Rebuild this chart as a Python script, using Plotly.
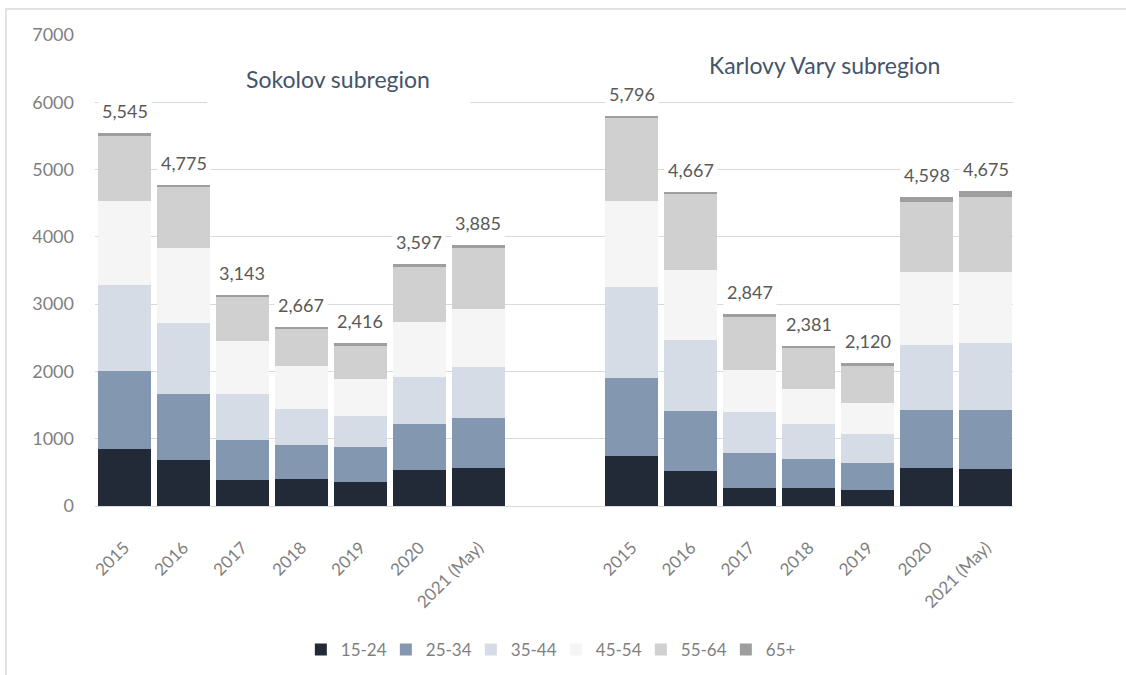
import plotly.graph_objects as go

years = ["2015", "2016", "2017", "2018", "2019", "2020", "2021 (May)"]
age_groups = ["15-24", "25-34", "35-44", "45-54", "55-64", "65+"]

sokolov_15_24 = [852, 688, 386, 401, 362, 535, 570]
sokolov_25_34 = [1159, 976, 600, 505, 510, 683, 738]
sokolov_35_44 = [1273, 1060, 683, 540, 465, 699, 757]
sokolov_45_54 = [1253, 1115, 783, 629, 555, 817, 862]
sokolov_55_64 = [966, 896, 663, 560, 495, 812, 902]
sokolov_65_plus = [42, 40, 28, 32, 29, 51, 56]

karlovy_15_24 = [743, 520, 272, 267, 243, 565, 550]
karlovy_25_34 = [1159, 897, 520, 431, 401, 866, 876]
karlovy_35_44 = [1352, 1055, 605, 520, 421, 966, 1001]
karlovy_45_54 = [1278, 1035, 624, 525, 461, 1080, 1050]
karlovy_55_64 = [1238, 1124, 802, 600, 559, 1045, 1119]
karlovy_65_plus = [26, 36, 24, 38, 35, 76, 79]

sokolov = [sokolov_15_24, sokolov_25_34, sokolov_35_44, sokolov_45_54, sokolov_55_64, sokolov_65_plus]
karlovy = [karlovy_15_24, karlovy_25_34, karlovy_35_44, karlovy_45_54, karlovy_55_64, karlovy_65_plus]

colors = ["#222A38", "#8497B0", "#D6DCE5", "#F5F5F5", "#D0D0D0", "#9E9E9E"]

FONT = "Lato"
GRAY = "#595959"
LIGHT_GRAY = "#7F7F7F"
TITLE_COLOR = "#44546A"
KV_OFFSET = 8.6

pos_sok = list(range(len(years)))
pos_kv = [i + KV_OFFSET for i in range(len(years))]
positions = pos_sok + pos_kv

fig = go.Figure()
for g, name in enumerate(age_groups):
    fig.add_trace(go.Bar(
        x=positions,
        y=sokolov[g] + karlovy[g],
        name=name,
        marker=dict(color=colors[g], line=dict(width=0)),
        width=0.9,
    ))

tot_sok = [sum(s[i] for s in sokolov) for i in range(len(years))]
tot_kv = [sum(s[i] for s in karlovy) for i in range(len(years))]

annotations = []
for x, t in zip(positions, tot_sok + tot_kv):
    annotations.append(dict(
        x=x, y=t, xref="x", yref="y", text=f"{t:,}", showarrow=False,
        yanchor="bottom", yshift=7, bgcolor="white", borderpad=3,
        font=dict(family=FONT, size=18, color=GRAY),
    ))

annotations.append(dict(x=3.62, y=6345, xref="x", yref="y", text="Sokolov subregion",
                        showarrow=False, font=dict(family=FONT, size=23, color=TITLE_COLOR)))
annotations.append(dict(x=11.86, y=6553, xref="x", yref="y", text="Karlovy Vary subregion",
                        showarrow=False, font=dict(family=FONT, size=23, color=TITLE_COLOR)))

shapes = [
    dict(type="rect", xref="x", yref="y", x0=1.4, x1=5.86, y0=5800, y1=6800,
         fillcolor="white", line=dict(width=0), layer="between"),
    dict(type="rect", xref="paper", yref="paper", x0=-0.097, x1=1.3, y0=-0.6, y1=1.055,
         fillcolor="rgba(0,0,0,0)", line=dict(color="#D9D9D9", width=1.5), layer="below"),
]

fig.update_layout(
    width=1126, height=675,
    margin=dict(l=95, r=113, t=35, b=169, autoexpand=False),
    paper_bgcolor="white", plot_bgcolor="white",
    barmode="stack", bargap=0,
    font=dict(family=FONT, color=GRAY),
    annotations=annotations,
    shapes=shapes,
    legend=dict(orientation="h", x=0.502, xanchor="center",
                yref="container", y=0.037, yanchor="middle",
                font=dict(family=FONT, size=17, color=LIGHT_GRAY), traceorder="normal",
                entrywidth=40, itemwidth=30),
    showlegend=True,
)
fig.update_xaxes(
    range=[-0.5, 15.06], tickvals=positions, ticktext=years + years, tickangle=-45,
    showgrid=False, zeroline=False, showline=True, linecolor="#D9D9D9", linewidth=1,
    ticks="", tickfont=dict(family=FONT, size=17, color=LIGHT_GRAY),
    ticklabelstandoff=24, automargin=False,
)
fig.update_yaxes(
    range=[0, 7000], dtick=1000, tickformat="d", showgrid=True, gridcolor="#D9D9D9",
    gridwidth=1, zeroline=False, showline=False, ticks="",
    tickfont=dict(family=FONT, size=18, color=LIGHT_GRAY), ticklabelstandoff=20,
    automargin=False,
)

fig.write_html("out.html", config={"displayModeBar": False},
               post_script="document.body.style.margin='0px';")
